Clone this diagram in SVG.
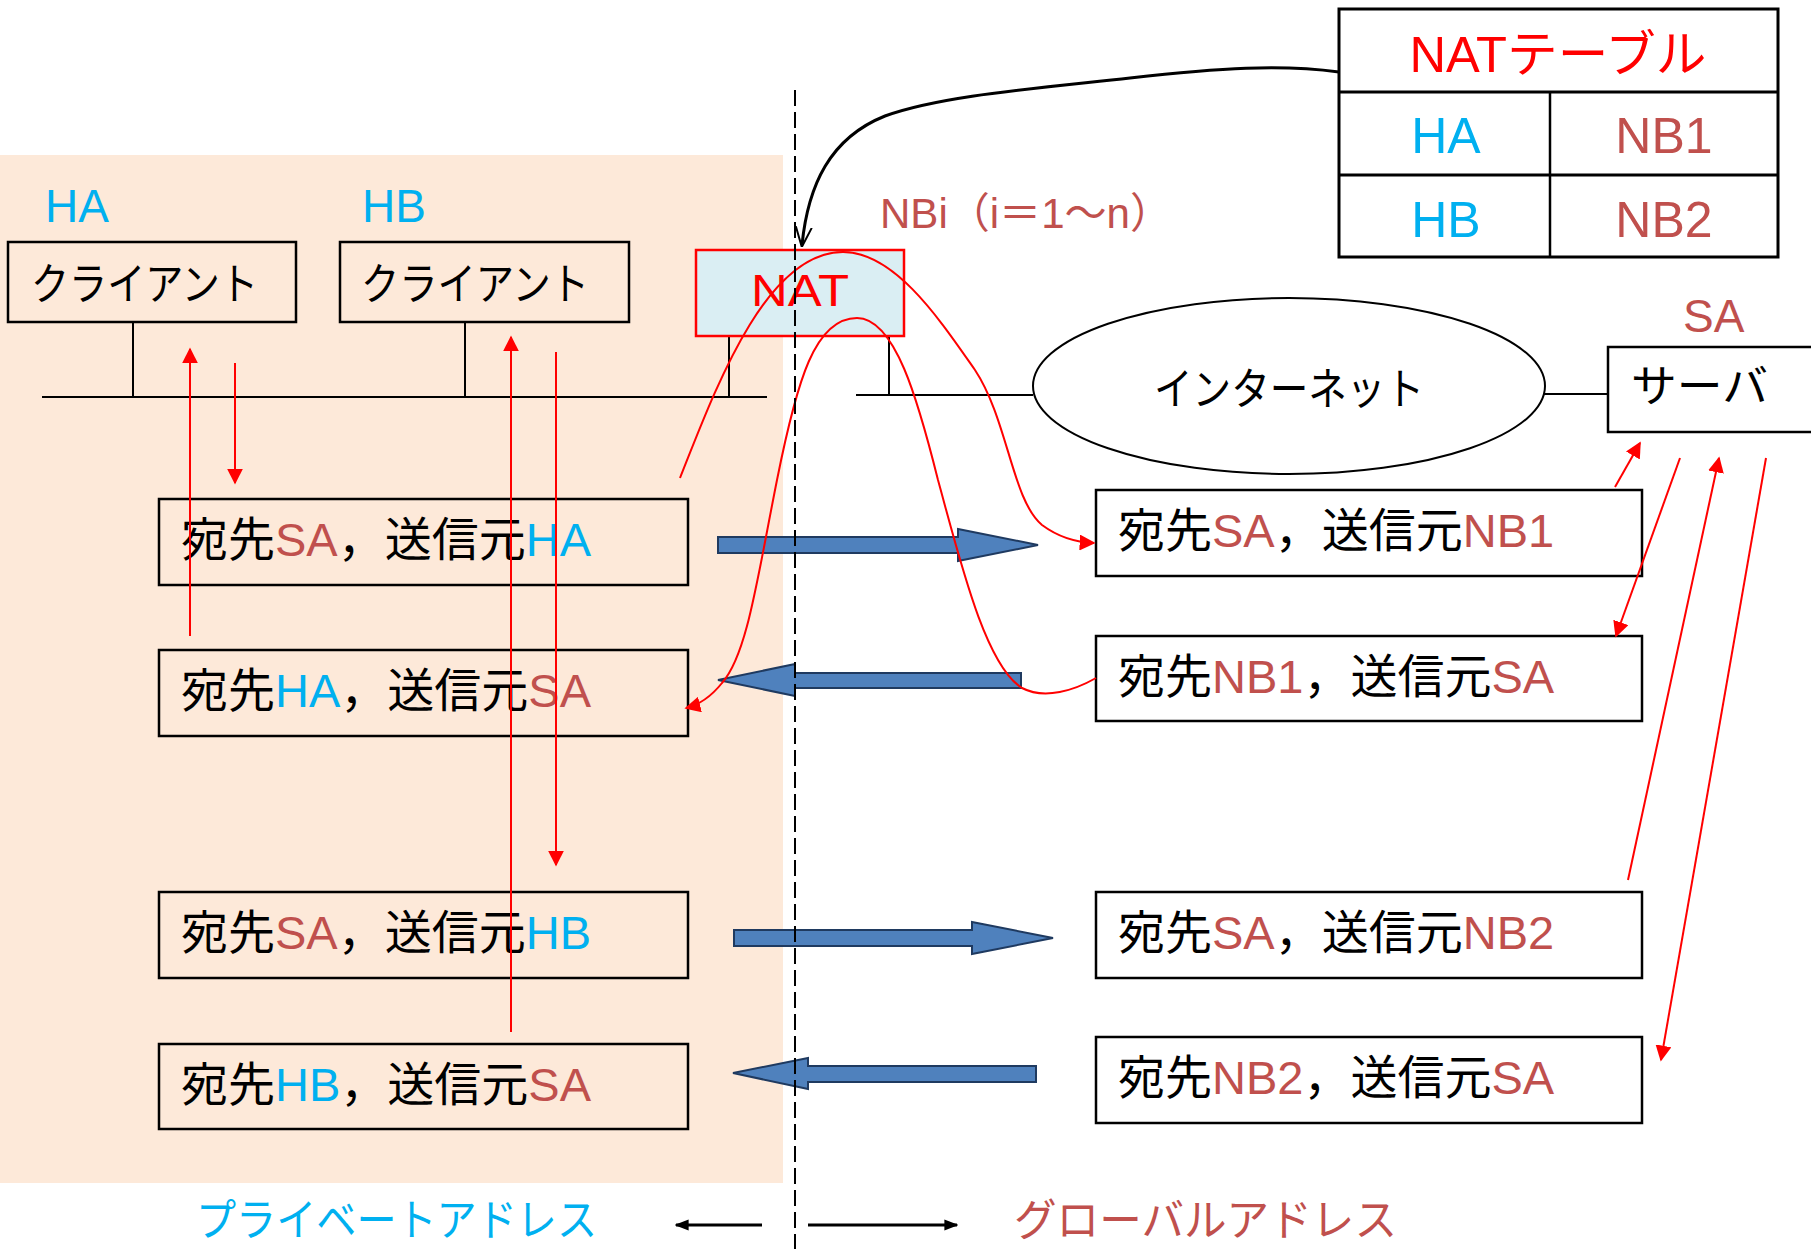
<svg xmlns="http://www.w3.org/2000/svg" width="1811" height="1249" viewBox="0 0 1811 1249">
<style>
text{font-family:"Liberation Sans","Noto Sans CJK JP",sans-serif;}
.box{fill:none;stroke:#000;stroke-width:2.5;}
.ln{stroke:#000;stroke-width:2;fill:none;}
.t{font-size:47px;fill:#000;}
.j{font-size:44px;fill:#000;}
.b{fill:#00B0F0;}
.r{fill:#C0504D;}
.red{fill:#FF0000;}
.ra{stroke:#FF0000;stroke-width:2;fill:none;marker-end:url(#rh2);}
.blue{fill:#4F81BD;stroke:#1F3A60;stroke-width:2;}
</style>
<defs>
<marker id="rh2" viewBox="0 0 10 10" refX="9" refY="5" markerWidth="16" markerHeight="16" markerUnits="userSpaceOnUse" orient="auto"><path d="M0,0 L10,5 L0,10 z" fill="#FF0000"/></marker>
<marker id="bh" viewBox="0 0 10 10" refX="9" refY="5" markerWidth="14" markerHeight="14" markerUnits="userSpaceOnUse" orient="auto"><path d="M0,1 L10,5 L0,9 z" fill="#000"/></marker>
<marker id="oh" viewBox="0 0 10 10" refX="9" refY="5" markerWidth="20" markerHeight="20" markerUnits="userSpaceOnUse" orient="auto"><path d="M0,1 L10,5 L0,9" fill="none" stroke="#000" stroke-width="1"/></marker>
</defs>
<rect x="0" y="0" width="1811" height="1249" fill="#fff"/>
<rect id="private-area" x="0" y="155" width="783" height="1028" fill="#FDE9D9"/>

<g id="labels">
<text x="45" y="222" font-size="46" class="b">HA</text>
<text x="362" y="222" font-size="46" class="b">HB</text>
<text x="1683" y="332" font-size="46" class="r">SA</text>
<text x="880" y="228" font-size="42" class="r" textLength="292" lengthAdjust="spacingAndGlyphs">NBi（i＝1〜n）</text>
<text x="196" y="1236" font-size="44" class="b" textLength="401" lengthAdjust="spacingAndGlyphs">プライベートアドレス</text>
<text x="1014" y="1236" font-size="44" class="r" textLength="383" lengthAdjust="spacingAndGlyphs">グローバルアドレス</text>
</g>

<g id="network-lines">
<line class="ln" x1="42" y1="397" x2="767" y2="397"/>
<line class="ln" x1="133" y1="322" x2="133" y2="397"/>
<line class="ln" x1="465" y1="322" x2="465" y2="397"/>
<line class="ln" x1="729" y1="330" x2="729" y2="397"/>
<line class="ln" x1="856" y1="395" x2="1033" y2="395"/>
<line class="ln" x1="889" y1="330" x2="889" y2="395"/>
<line class="ln" x1="1544" y1="394" x2="1608" y2="394"/>
</g>

<g id="client-a">
<rect class="box" x="8" y="242" width="288" height="80"/>
<text x="31" y="300" class="j" textLength="227" lengthAdjust="spacingAndGlyphs">クライアント</text>
</g>
<g id="client-b">
<rect class="box" x="340" y="242" width="289" height="80"/>
<text x="361" y="300" class="j" textLength="228" lengthAdjust="spacingAndGlyphs">クライアント</text>
</g>

<g id="nat">
<rect x="696" y="250" width="208" height="86" fill="#DAEEF3" stroke="#FF0000" stroke-width="2.5"/>
<text x="751" y="306" font-size="44" class="red" textLength="98" lengthAdjust="spacingAndGlyphs">NAT</text>
</g>

<g id="internet">
<ellipse cx="1289" cy="386" rx="256" ry="88" fill="none" stroke="#000" stroke-width="2"/>
<text x="1154" y="405" class="j" textLength="270" lengthAdjust="spacingAndGlyphs">インターネット</text>
</g>

<g id="server">
<rect class="box" x="1608" y="347" width="230" height="85"/>
<text x="1631" y="402" class="j" textLength="137" lengthAdjust="spacingAndGlyphs">サーバ</text>
</g>

<g id="nat-table">
<rect x="1339" y="9" width="439" height="248" fill="#fff" stroke="#000" stroke-width="3"/>
<line x1="1339" y1="92" x2="1778" y2="92" stroke="#000" stroke-width="3"/>
<line x1="1339" y1="175" x2="1778" y2="175" stroke="#000" stroke-width="3"/>
<line x1="1550" y1="92" x2="1550" y2="257" stroke="#000" stroke-width="2.5"/>
<text x="1558" y="72" font-size="50" class="red" text-anchor="middle" textLength="297" lengthAdjust="spacingAndGlyphs">NATテーブル</text>
<text x="1446" y="153" font-size="50" class="b" text-anchor="middle">HA</text>
<text x="1664" y="153" font-size="50" class="r" text-anchor="middle">NB1</text>
<text x="1446" y="237" font-size="50" class="b" text-anchor="middle">HB</text>
<text x="1664" y="237" font-size="50" class="r" text-anchor="middle">NB2</text>
</g>

<g id="pkt-l1"><rect class="box" x="159" y="499" width="529" height="86"/><text class="t" x="181" y="556">宛先<tspan class="r">SA</tspan>，送信元<tspan class="b">HA</tspan></text></g>
<g id="pkt-l2"><rect class="box" x="159" y="650" width="529" height="86"/><text class="t" x="181" y="707">宛先<tspan class="b">HA</tspan>，送信元<tspan class="r">SA</tspan></text></g>
<g id="pkt-l3"><rect class="box" x="159" y="892" width="529" height="86"/><text class="t" x="181" y="949">宛先<tspan class="r">SA</tspan>，送信元<tspan class="b">HB</tspan></text></g>
<g id="pkt-l4"><rect class="box" x="159" y="1044" width="529" height="85"/><text class="t" x="181" y="1101">宛先<tspan class="b">HB</tspan>，送信元<tspan class="r">SA</tspan></text></g>
<g id="pkt-r1"><rect class="box" x="1096" y="490" width="546" height="86"/><text class="t" x="1118" y="547">宛先<tspan class="r">SA</tspan>，送信元<tspan class="r">NB1</tspan></text></g>
<g id="pkt-r2"><rect class="box" x="1096" y="636" width="546" height="85"/><text class="t" x="1118" y="693">宛先<tspan class="r">NB1</tspan>，送信元<tspan class="r">SA</tspan></text></g>
<g id="pkt-r3"><rect class="box" x="1096" y="892" width="546" height="86"/><text class="t" x="1118" y="949">宛先<tspan class="r">SA</tspan>，送信元<tspan class="r">NB2</tspan></text></g>
<g id="pkt-r4"><rect class="box" x="1096" y="1037" width="546" height="86"/><text class="t" x="1118" y="1094">宛先<tspan class="r">NB2</tspan>，送信元<tspan class="r">SA</tspan></text></g>

<g id="connectors">
<polygon class="blue" points="718,537 958,537 958,529 1038,545 958,561 958,553 718,553"/>
<polygon class="blue" points="718,680 795,664 795,673 1021,673 1021,688 795,688 795,696"/>
<polygon class="blue" points="734,930 972,930 972,922 1053,938 972,954 972,946 734,946"/>
<polygon class="blue" points="733,1073 808,1058 808,1066 1036,1066 1036,1082 808,1082 808,1089"/>

<line class="ra" x1="190" y1="636" x2="190" y2="349"/>
<line class="ra" x1="235" y1="363" x2="235" y2="483"/>
<line class="ra" x1="511" y1="1032" x2="511" y2="337"/>
<line class="ra" x1="556" y1="352" x2="556" y2="865"/>
<path class="ra" d="M680,478 C715,390 765,252 843,252 C895,252 940,320 975,370 C1008,420 1012,500 1042,525 Q1065,542 1094,543"/>
<path class="ra" d="M1096,678 C1075,690 1045,700 1022,688 C985,665 960,560 938,480 C918,400 895,318 857,318 C815,318 797,380 777,480 C757,580 747,655 722,683 Q706,703 686,708"/>
<line class="ra" x1="1615" y1="487" x2="1640" y2="443"/>
<line class="ra" x1="1680" y1="458" x2="1616" y2="636"/>
<line class="ra" x1="1628" y1="880" x2="1719" y2="458"/>
<line class="ra" x1="1766" y1="458" x2="1661" y2="1060"/>

<path d="M1339,72 C1280,64 1220,68 1130,78 C1030,89 940,96 885,116 C830,138 808,185 802,245" fill="none" stroke="#000" stroke-width="3" marker-end="url(#oh)"/>

<line x1="795" y1="90" x2="795" y2="1249" stroke="#000" stroke-width="2" stroke-dasharray="16,6"/>

<line x1="762" y1="1225" x2="676" y2="1225" stroke="#000" stroke-width="3" marker-end="url(#bh)"/>
<line x1="808" y1="1225" x2="957" y2="1225" stroke="#000" stroke-width="3" marker-end="url(#bh)"/>
</g>
</svg>
